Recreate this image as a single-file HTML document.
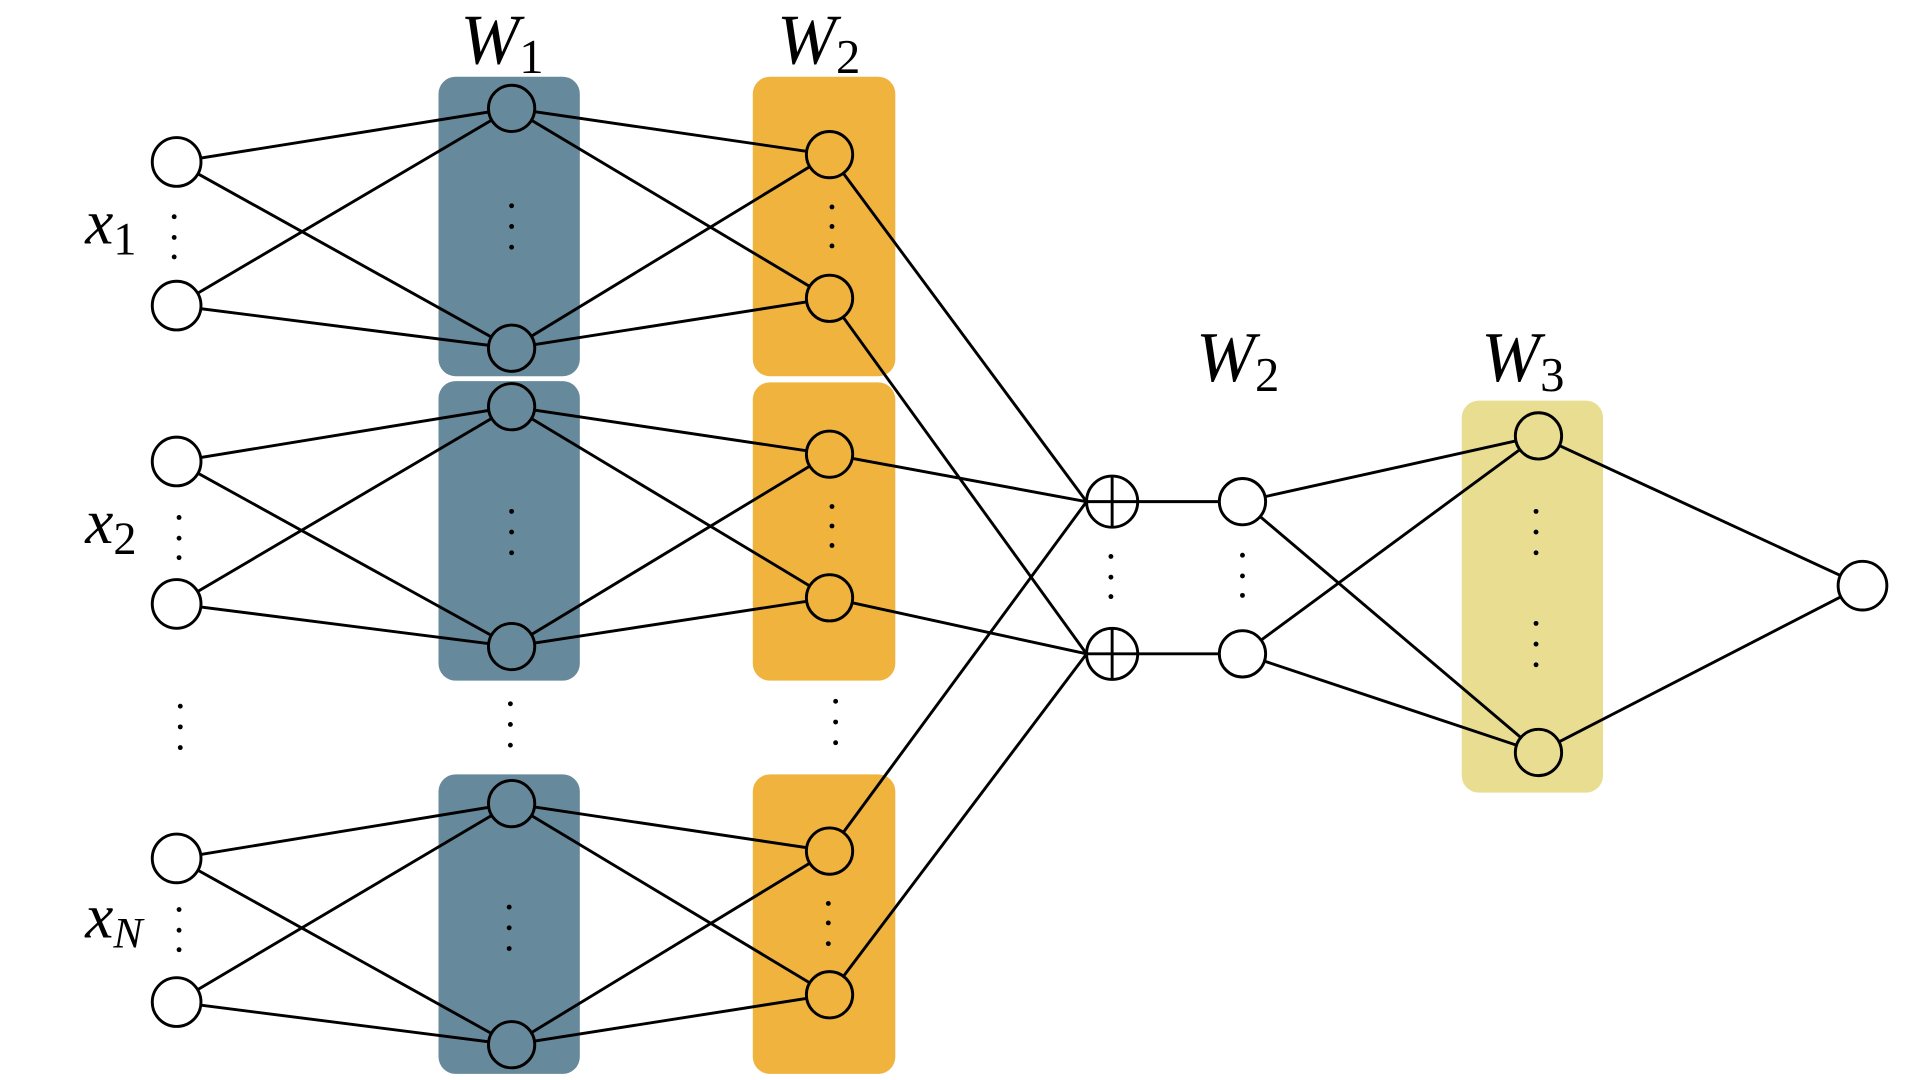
<!DOCTYPE html>
<html><head><meta charset="utf-8"><style>html,body{margin:0;padding:0;background:#fff}svg{display:block}</style></head>
<body>
<svg width="1910" height="1080" viewBox="0 0 1568 887" preserveAspectRatio="none" xmlns="http://www.w3.org/2000/svg">
<g>
<rect x="360" y="63" width="116" height="246" rx="14" fill="#66899b"/>
<rect x="360" y="313" width="116" height="246" rx="14" fill="#66899b"/>
<rect x="360" y="636" width="116" height="246" rx="14" fill="#66899b"/>
<rect x="618" y="63" width="117" height="246" rx="14" fill="#f0b43e"/>
<rect x="618" y="314" width="117" height="245" rx="14" fill="#f0b43e"/>
<rect x="618" y="636" width="117" height="246" rx="14" fill="#f0b43e"/>
<rect x="1200" y="329" width="116" height="322" rx="14" fill="#e9dd92"/>
</g>
<g stroke="#000" stroke-width="2.4" fill="none">
<line x1="145" y1="133" x2="420" y2="89"/><line x1="145" y1="133" x2="420" y2="286"/>
<line x1="145" y1="251" x2="420" y2="89"/><line x1="145" y1="251" x2="420" y2="286"/>
<line x1="420" y1="89" x2="681" y2="127"/><line x1="420" y1="89" x2="681" y2="245"/>
<line x1="420" y1="286" x2="681" y2="127"/><line x1="420" y1="286" x2="681" y2="245"/>
<line x1="145" y1="379" x2="420" y2="334"/><line x1="145" y1="379" x2="420" y2="531"/>
<line x1="145" y1="496" x2="420" y2="334"/><line x1="145" y1="496" x2="420" y2="531"/>
<line x1="420" y1="334" x2="681" y2="373"/><line x1="420" y1="334" x2="681" y2="491"/>
<line x1="420" y1="531" x2="681" y2="373"/><line x1="420" y1="531" x2="681" y2="491"/>
<line x1="145" y1="705" x2="420" y2="660"/><line x1="145" y1="705" x2="420" y2="858"/>
<line x1="145" y1="823" x2="420" y2="660"/><line x1="145" y1="823" x2="420" y2="858"/>
<line x1="420" y1="660" x2="681" y2="699"/><line x1="420" y1="660" x2="681" y2="817"/>
<line x1="420" y1="858" x2="681" y2="699"/><line x1="420" y1="858" x2="681" y2="817"/>
<line x1="681" y1="127" x2="892" y2="412"/><line x1="681" y1="245" x2="892" y2="537"/>
<line x1="681" y1="373" x2="892" y2="412"/><line x1="681" y1="491" x2="892" y2="537"/>
<line x1="681" y1="699" x2="892" y2="412"/><line x1="681" y1="817" x2="892" y2="537"/>
<line x1="913" y1="412" x2="1020" y2="412"/><line x1="913" y1="537" x2="1020" y2="537"/>
<line x1="1020" y1="412" x2="1263" y2="358"/><line x1="1020" y1="412" x2="1263" y2="618"/>
<line x1="1020" y1="537" x2="1263" y2="358"/><line x1="1020" y1="537" x2="1263" y2="618"/>
<line x1="1263" y1="358" x2="1529" y2="481"/><line x1="1263" y1="618" x2="1529" y2="481"/>
</g>
<g stroke="#000" stroke-width="2.4" fill="#fff">
<circle cx="145" cy="133" r="20"/><circle cx="145" cy="251" r="20"/>
<circle cx="145" cy="379" r="20"/><circle cx="145" cy="496" r="20"/>
<circle cx="145" cy="705" r="20"/><circle cx="145" cy="823" r="20"/>
<circle cx="1529" cy="481" r="20"/>
<circle cx="1020" cy="412" r="19"/><circle cx="1020" cy="537" r="19"/>
<circle cx="913" cy="412" r="21"/><circle cx="913" cy="537" r="21"/>
</g>
<g stroke="#000" stroke-width="2.4" fill="#66899b">
<circle cx="420" cy="89" r="19"/><circle cx="420" cy="286" r="19"/>
<circle cx="420" cy="334" r="19"/><circle cx="420" cy="531" r="19"/>
<circle cx="420" cy="660" r="19"/><circle cx="420" cy="858" r="19"/>
</g>
<g stroke="#000" stroke-width="2.4" fill="#f0b43e">
<circle cx="681" cy="127" r="19"/><circle cx="681" cy="245" r="19"/>
<circle cx="681" cy="373" r="19"/><circle cx="681" cy="491" r="19"/>
<circle cx="681" cy="699" r="19"/><circle cx="681" cy="817" r="19"/>
</g>
<g stroke="#000" stroke-width="2.4" fill="#e9dd92">
<circle cx="1263" cy="358" r="19"/><circle cx="1263" cy="618" r="19"/>
</g>
<g stroke="#000" stroke-width="2.4" fill="none">
<line x1="913" y1="391" x2="913" y2="433"/><line x1="892" y1="412" x2="934" y2="412"/>
<line x1="913" y1="516" x2="913" y2="558"/><line x1="892" y1="537" x2="934" y2="537"/>
</g>
<g fill="#000">
<circle cx="143" cy="178" r="2"/><circle cx="143" cy="195" r="2"/><circle cx="143" cy="211" r="2"/>
<circle cx="147" cy="425" r="2"/><circle cx="147" cy="442" r="2"/><circle cx="147" cy="458" r="2"/>
<circle cx="148" cy="580" r="2"/><circle cx="148" cy="597" r="2"/><circle cx="148" cy="614" r="2"/>
<circle cx="147" cy="747" r="2"/><circle cx="147" cy="764" r="2"/><circle cx="147" cy="780" r="2"/>
<circle cx="420" cy="169" r="2"/><circle cx="420" cy="186" r="2"/><circle cx="420" cy="203" r="2"/>
<circle cx="420" cy="420" r="2"/><circle cx="420" cy="437" r="2"/><circle cx="420" cy="454" r="2"/>
<circle cx="419" cy="578" r="2"/><circle cx="419" cy="595" r="2"/><circle cx="419" cy="612" r="2"/>
<circle cx="418" cy="745" r="2"/><circle cx="418" cy="762" r="2"/><circle cx="418" cy="779" r="2"/>
<circle cx="683" cy="170" r="2"/><circle cx="683" cy="186" r="2"/><circle cx="683" cy="202" r="2"/>
<circle cx="683" cy="416" r="2"/><circle cx="683" cy="432" r="2"/><circle cx="683" cy="448" r="2"/>
<circle cx="686" cy="576" r="2"/><circle cx="686" cy="593" r="2"/><circle cx="686" cy="610" r="2"/>
<circle cx="680" cy="742" r="2"/><circle cx="680" cy="758" r="2"/><circle cx="680" cy="775" r="2"/>
<circle cx="912" cy="457" r="2"/><circle cx="912" cy="474" r="2"/><circle cx="912" cy="490" r="2"/>
<circle cx="1020" cy="456" r="2"/><circle cx="1020" cy="473" r="2"/><circle cx="1020" cy="489" r="2"/>
<circle cx="1261" cy="420" r="2"/><circle cx="1261" cy="437" r="2"/><circle cx="1261" cy="454" r="2"/>
<circle cx="1261" cy="512" r="2"/><circle cx="1261" cy="529" r="2"/><circle cx="1261" cy="546" r="2"/>
</g>
<g style="font-family:'Liberation Serif',serif;font-style:italic" fill="#000">
<text x="378" y="52" font-size="58">W<tspan font-style="normal" font-size="40" dy="8">1</tspan></text>
<text x="638" y="52" font-size="58">W<tspan font-style="normal" font-size="40" dy="8">2</tspan></text>
<text x="982" y="313" font-size="58">W<tspan font-style="normal" font-size="40" dy="8">2</tspan></text>
<text x="1216" y="313" font-size="58">W<tspan font-style="normal" font-size="40" dy="8">3</tspan></text>
<text x="70" y="200" font-size="52">x<tspan font-style="normal" font-size="38" dy="9">1</tspan></text>
<text x="70" y="446" font-size="52">x<tspan font-style="normal" font-size="38" dy="9">2</tspan></text>
<text x="70" y="770" font-size="52">x<tspan font-size="36" dy="8">N</tspan></text>
</g>
</svg>
</body></html>
